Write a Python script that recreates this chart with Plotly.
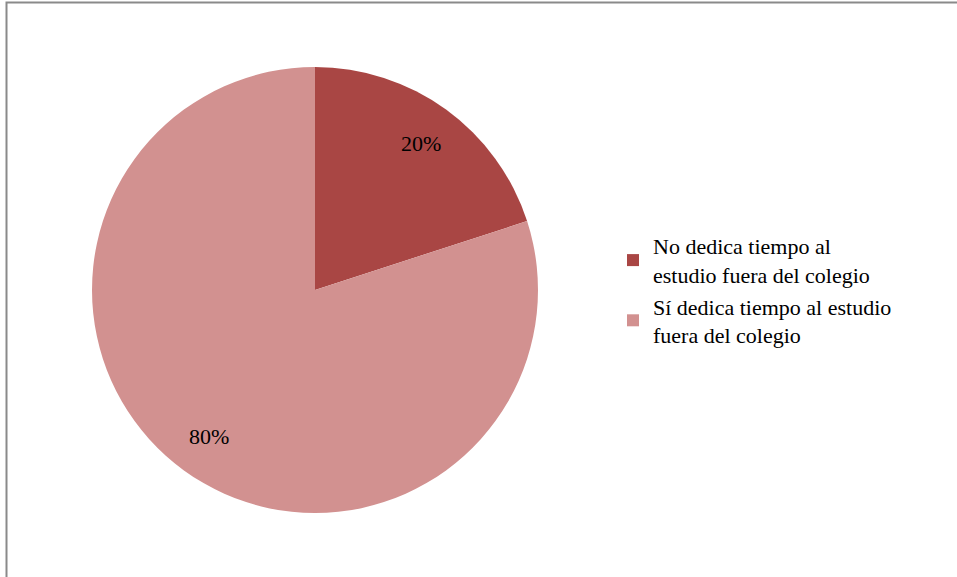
import numpy as np
import plotly.graph_objects as go

# Data
labels = ["No dedica tiempo al<br>estudio fuera del colegio",
          "Sí dedica tiempo al estudio<br>fuera del colegio"]
values = [20, 80]
colors = ["#A94644", "#D29190"]

W, H = 957, 577
SERIF = "Liberation Serif"

# Pie geometry (pixels)
cx, cy, R = 315, 290, 223
dom_x = [(cx - R) / W, (cx + R) / W]
dom_y = [1 - (cy + R) / H, 1 - (cy - R) / H]

fig = go.Figure()
fig.add_trace(go.Pie(
    labels=labels,
    values=values,
    sort=False,
    direction="clockwise",
    rotation=0,
    textinfo="none",
    hoverinfo="label+percent",
    marker=dict(colors=colors, line=dict(width=0)),
    domain=dict(x=dom_x, y=dom_y),
))

# Percentage labels placed on each slice's mid-angle
vals = np.array(values, dtype=float)
frac = vals / vals.sum()
cum = np.cumsum(frac) - frac / 2
for f, mid in zip(frac, cum):
    ang = 2 * np.pi * mid
    px = cx + 0.81 * R * np.sin(ang)
    py = cy - 0.81 * R * np.cos(ang)
    fig.add_annotation(
        x=px / W, y=1 - py / H, xref="paper", yref="paper",
        xanchor="center", yanchor="middle",
        text=f"{round(f * 100)}%", showarrow=False,
        font=dict(family=SERIF, size=22, color="black"),
    )

# Outer frame
fig.add_shape(type="rect", xref="paper", yref="paper",
              x0=6.5 / W, x1=1.2, y0=-0.2, y1=1 - 2.5 / H,
              line=dict(color="#8A8A8A", width=2), fillcolor="rgba(0,0,0,0)")

fig.update_layout(
    width=W, height=H,
    margin=dict(l=0, r=0, t=0, b=0),
    paper_bgcolor="white",
    plot_bgcolor="white",
    showlegend=True,
    legend=dict(
        x=613 / W, xanchor="left",
        y=1 - 225 / H, yanchor="top",
        font=dict(family=SERIF, size=22, color="black"),
        bgcolor="rgba(0,0,0,0)",
        traceorder="normal",
    ),
)

fig.write_html("out.html")
